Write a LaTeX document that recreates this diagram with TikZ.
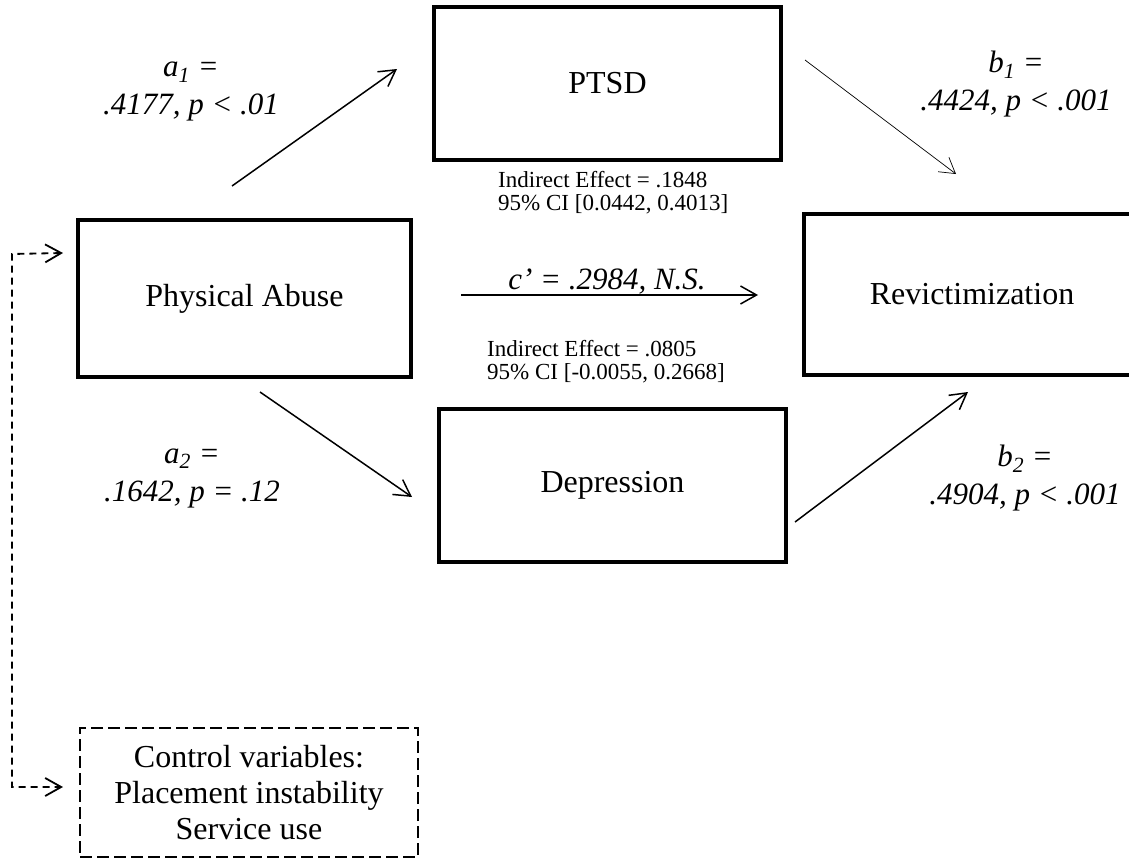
\documentclass[tikz,border=0pt]{standalone}
\usepackage{fontspec}
\setmainfont{Liberation Serif}
\usetikzlibrary{arrows.meta}
\tikzset{
  box/.style={draw, line width=4pt, inner sep=0pt, font=\fontsize{32}{36}\selectfont},
  ctrl/.style={draw, dash pattern=on 12pt off 5pt, line width=1.8pt, inner sep=0pt, align=center, font=\fontsize{32}{36}\selectfont},
  conn/.style={line width=1.5pt, -{Straight Barb[length=16pt,width=18pt,line width=1.5pt]}},
  thinconn/.style={line width=0.7pt, -{Straight Barb[length=15pt,width=18pt,line width=0.7pt]}},
  dconn/.style={line width=1.8pt, dash pattern=on 7pt off 5pt, {Straight Barb[length=16pt,width=18pt,line width=1.8pt]}-{Straight Barb[length=16pt,width=18pt,line width=1.8pt]}},
  lab/.style={font=\fontsize{31}{38}\selectfont\itshape, align=center},
  small/.style={font=\fontsize{23}{23}\selectfont, align=left, inner sep=0pt}
}
\begin{document}
\begin{tikzpicture}[x=1pt,y=-1pt]
\useasboundingbox (0,0) rectangle (1129,859);
\clip (0,0) rectangle (1129,859);
% boxes
\node[box, minimum width=347pt, minimum height=153pt] (ptsd) at (607.5,83.5) {PTSD};
\node[box, minimum width=333pt, minimum height=157pt] (pa) at (244.5,298.5) {Physical Abuse};
\node[box, minimum width=336pt, minimum height=161pt] (rev) at (972,294.5) {Revictimization};
\node[box, minimum width=347pt, minimum height=153pt] (dep) at (612.5,485.5) {Depression};
\node[ctrl, minimum width=338pt, minimum height=129pt] (ctrl) at (249,792.5) {Control variables:\\Placement instability\\Service use};
% arrow endpoints
\coordinate (a1s) at (232,186); \coordinate (a1e) at (397,69);
\coordinate (b1s) at (805,60); \coordinate (b1e) at (956,174);
\coordinate (cs) at (461,295); \coordinate (ce) at (758,295);
\coordinate (a2s) at (260,392); \coordinate (a2e) at (412,497);
\coordinate (b2s) at (795,522); \coordinate (b2e) at (968,392);
\draw[conn] (a1s) -- (a1e);
\draw[thinconn] (b1s) -- (b1e);
\draw[conn] (cs) -- (ce);
\draw[conn] (a2s) -- (a2e);
\draw[conn] (b2s) -- (b2e);
% dashed control connector
\coordinate (dtop) at (63,253);
\coordinate (dbot) at (63,787);
\draw[dconn] (dtop) -- (12,254) -- (12,787) -- (dbot);
% labels
\node[lab] (la1) at (191,92) {a\textsubscript{1} =\\.4177, \textit{p} < .01};
\node[lab] (lb1) at (1016,84) {b\textsubscript{1} =\\.4424, \textit{p} < .001};
\node[lab] (la2) at (192,478) {a\textsubscript{2} =\\.1642, \textit{p} = .12};
\node[lab] (lb2) at (1025,478) {b\textsubscript{2} =\\.4904, \textit{p} < .001};
\node[lab, anchor=base] (lc) at (607,289) {c’ = .2984, N.S.};
\node[small, anchor=base west] (ie1) at (498,210) {Indirect Effect = .1848\\ 95\% CI [0.0442, 0.4013]};
\node[small, anchor=base west] (ie2) at (487,379) {Indirect Effect = .0805\\95\% CI [-0.0055, 0.2668]};
\end{tikzpicture}
\end{document}
